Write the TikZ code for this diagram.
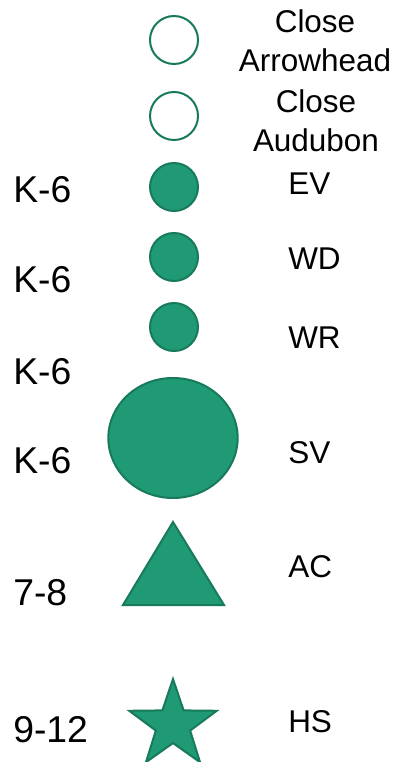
\documentclass[tikz,border=0pt]{standalone}
\usepackage{fontspec}
\setmainfont{Liberation Sans}
\usetikzlibrary{shapes.geometric}
\definecolor{schoolfill}{HTML}{1F9A74}
\definecolor{schoolline}{HTML}{187A5C}
\tikzset{
  every node/.style={inner sep=0pt},
  site/.style={font=\fontsize{23.6}{29.3}\selectfont,anchor=base west},
  closed/.style={font=\fontsize{23.6}{29.3}\selectfont,align=center,anchor=base},
  grade/.style={font=\fontsize{28}{34}\selectfont,anchor=base west},
  open/.style={circle,draw=schoolline,line width=1.5pt,fill=white,minimum size=36pt},
  elem/.style={circle,draw=schoolline,line width=1.5pt,fill=schoolfill,minimum size=36pt},
  symbol/.style={draw=schoolline,line width=1.5pt,fill=schoolfill,line join=miter},
}
\begin{document}
\begin{tikzpicture}[x=0.75pt,y=-0.75pt]
\path[use as bounding box,fill=white] (0,0) rectangle (393,762);
% closed schools, open marks
\node[open] (arrowhead) at (174,40) {};
\node[closed] (arrowheadtxt) at (315,72) {Close\\Arrowhead};
\node[open] (audubon) at (174,116) {};
\node[closed] (audubontxt) at (316,152) {Close\\Audubon};
% elementary schools
\node[elem] (ev) at (174,187) {};
\node[site] (evtxt) at (288,195) {EV};
\node[grade] (evgrade) at (13,203) {K-6};
\node[elem] (wd) at (174,257) {};
\node[site] (wdtxt) at (288,270) {WD};
\node[grade] (wdgrade) at (13,293) {K-6};
\node[elem] (wr) at (174,327) {};
\node[site] (wrtxt) at (288,348) {WR};
\node[grade] (wrgrade) at (13,384) {K-6};
\node[ellipse,symbol,minimum width=97pt,minimum height=90pt] (sv) at (173,438) {};
\node[site] (svtxt) at (288,463) {SV};
\node[grade] (svgrade) at (13,473) {K-6};
% middle and high school
\draw[symbol] (173,522) -- (224,605) -- (123,605) -- cycle;
\node[site] (actxt) at (288,577) {AC};
\node[grade] (acgrade) at (13,605) {7-8};
\node[star,star points=5,star point ratio=2.55,symbol,minimum size=69pt] (hs) at (173,725) {};
\node[site] (hstxt) at (288,732) {HS};
\node[grade] (hsgrade) at (13,742) {9-12};
\end{tikzpicture}
\end{document}
